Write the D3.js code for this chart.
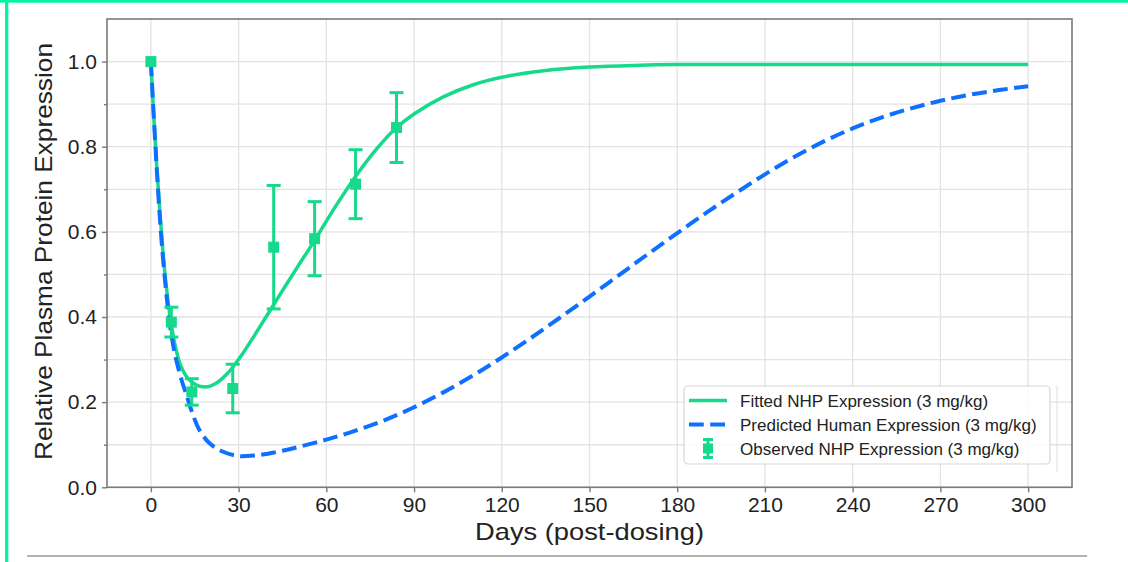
<!DOCTYPE html>
<html>
<head>
<meta charset="utf-8">
<script src="https://cdn.jsdelivr.net/npm/d3@7"></script>
<style>
  html, body { margin: 0; padding: 0; background: #fff; }
  svg { display: block; }
  text { font-family: "Liberation Sans", Arial, Helvetica, sans-serif; fill: #222; }
</style>
</head>
<body>
<div id="chart"></div>
<script>
// ---------------- Data ----------------
const obsDays   = [0, 7, 14, 28, 42, 56, 70, 84];
const obsValues = [1.0, 0.388, 0.224, 0.232, 0.564, 0.584, 0.712, 0.845];
const obsErrors = [0.0, 0.035, 0.031, 0.057, 0.145, 0.087, 0.081, 0.082];

const fitDays   = [0, 1, 2, 3, 4, 5, 6, 7, 8, 9, 10, 12, 14, 16, 18, 20, 22, 24, 26, 28, 31, 35, 40, 45, 50, 56, 63, 70, 77, 84, 90, 100, 110, 120, 135, 150, 165, 180, 210, 240, 270, 300];
const fitValues = [1.0, 0.87, 0.755, 0.655, 0.565, 0.49, 0.43, 0.382, 0.343, 0.313, 0.29, 0.262, 0.247, 0.239, 0.236, 0.237, 0.243, 0.253, 0.266, 0.282, 0.31, 0.352, 0.407, 0.462, 0.516, 0.58, 0.658, 0.73, 0.793, 0.845, 0.877, 0.917, 0.945, 0.963, 0.979, 0.987, 0.991, 0.993, 0.993, 0.993, 0.993, 0.993];

const humDays   = [0, 1, 2, 3, 4, 5, 6, 7, 8, 9, 10.5, 12.5, 14, 16.5, 20, 24.5, 30, 35, 40, 45, 50, 60, 70, 80, 90, 100, 110, 120, 130, 140, 150, 160, 170, 180, 190, 200, 210, 220, 230, 240, 250, 260, 270, 280, 290, 300];
const humValues = [1.0, 0.87, 0.75, 0.64, 0.55, 0.475, 0.41, 0.36, 0.32, 0.29, 0.252, 0.21, 0.178, 0.136, 0.104, 0.084, 0.0735, 0.0745, 0.079, 0.086, 0.094, 0.112, 0.133, 0.158, 0.188, 0.223, 0.262, 0.305, 0.351, 0.399, 0.448, 0.498, 0.548, 0.597, 0.645, 0.691, 0.735, 0.776, 0.812, 0.843, 0.869, 0.89, 0.908, 0.922, 0.933, 0.942];

const xTicks = [0, 30, 60, 90, 120, 150, 180, 210, 240, 270, 300];
const yTicks = [0.0, 0.2, 0.4, 0.6, 0.8, 1.0];
const yMinorTicks = [0.1, 0.3, 0.5, 0.7, 0.9];
const yGrid = [0.0, 0.1, 0.2, 0.3, 0.4, 0.5, 0.6, 0.7, 0.8, 0.9, 1.0];

const legendLabels = [
  "Fitted NHP Expression (3 mg/kg)",
  "Predicted Human Expression (3 mg/kg)",
  "Observed NHP Expression (3 mg/kg)"
];
const xLabel = "Days (post-dosing)";
const yLabel = "Relative Plasma Protein Expression";

// ---------------- Layout ----------------
const W = 1128, H = 562;
const GREEN = "#17d98b", BLUE = "#0f6fff", BORDER = "#00f5a6";
const pL = 107, pR = 1072, pT = 19, pB = 487.3;

const svg = d3.select("#chart").append("svg").attr("width", W).attr("height", H);

// frame decorations
svg.append("rect").attr("x", 0).attr("y", 0).attr("width", W).attr("height", 2.7).attr("fill", BORDER);
svg.append("rect").attr("x", 5).attr("y", 0).attr("width", 3.3).attr("height", H).attr("fill", BORDER);
svg.append("line").attr("x1", 27).attr("x2", 1087).attr("y1", 556).attr("y2", 556)
  .attr("stroke", "#9a9a9a").attr("stroke-width", 1.5);

const x = d3.scaleLinear().domain([-15, 315]).range([pL, pR]);
const y = d3.scaleLinear().domain([0, 1.1]).range([pB, pT]);

const plot = svg.append("g");

// grid
plot.selectAll(".gx").data(xTicks).enter().append("line")
  .attr("x1", d => x(d)).attr("x2", d => x(d)).attr("y1", pT).attr("y2", pB)
  .attr("stroke", "#e3e3e3").attr("stroke-width", 1.3);
plot.selectAll(".gy").data(yGrid).enter().append("line")
  .attr("y1", d => y(d)).attr("y2", d => y(d)).attr("x1", pL).attr("x2", pR)
  .attr("stroke", "#e3e3e3").attr("stroke-width", 1.3);

// curves
const line = d3.line().curve(d3.curveCatmullRom.alpha(0.5)).x(d => x(d[0])).y(d => y(d[1]));
plot.append("path").datum(d3.zip(fitDays, fitValues)).attr("d", line)
  .attr("fill", "none").attr("stroke", GREEN).attr("stroke-width", 3.5);
plot.append("path").datum(d3.zip(humDays, humValues)).attr("d", line)
  .attr("fill", "none").attr("stroke", BLUE).attr("stroke-width", 4)
  .attr("stroke-dasharray", "14.8,6.4");

// error bars
const obs = d3.zip(obsDays, obsValues, obsErrors);
const eb = plot.append("g");
obs.forEach(([d, v, e]) => {
  if (e > 0) {
    eb.append("line").attr("x1", x(d)).attr("x2", x(d)).attr("y1", y(v - e)).attr("y2", y(v + e))
      .attr("stroke", GREEN).attr("stroke-width", 3);
    [v - e, v + e].forEach(c => eb.append("line")
      .attr("x1", x(d) - 7).attr("x2", x(d) + 7).attr("y1", y(c)).attr("y2", y(c))
      .attr("stroke", GREEN).attr("stroke-width", 3));
  }
  eb.append("rect").attr("x", x(d) - 5.5).attr("y", y(v) - 5.5).attr("width", 11).attr("height", 11)
    .attr("fill", GREEN);
});

// spines
svg.append("rect").attr("x", pL).attr("y", pT).attr("width", pR - pL).attr("height", pB - pT)
  .attr("fill", "none").attr("stroke", "#7a7a7a").attr("stroke-width", 1.6);

// axes
const xAxis = d3.axisBottom(x).tickValues(xTicks).tickSize(5).tickPadding(5).tickFormat(d3.format("d"));
const gx = svg.append("g").attr("transform", `translate(0,${pB})`).call(xAxis);
const yAxis = d3.axisLeft(y).tickValues(yTicks).tickSize(5).tickPadding(5).tickFormat(d3.format(".1f"));
const gy = svg.append("g").attr("transform", `translate(${pL},0)`).call(yAxis);
const yMinor = d3.axisLeft(y).tickValues(yMinorTicks).tickSize(3).tickFormat("");
const gym = svg.append("g").attr("transform", `translate(${pL},0)`).call(yMinor);
[gx, gy, gym].forEach(g => {
  g.select(".domain").remove();
  g.selectAll(".tick line").attr("stroke", "#7a7a7a").attr("stroke-width", 1.4);
  g.selectAll(".tick text").attr("fill", "#222").style("font-size", "21px")
    .style("font-family", '"Liberation Sans", Arial, sans-serif');
});
gx.selectAll(".tick text").attr("dy", "0.71em");

// axis labels
svg.append("text").attr("x", (pL + pR) / 2).attr("y", 540).attr("text-anchor", "middle")
  .style("font-size", "24px").attr("textLength", 229).attr("lengthAdjust", "spacingAndGlyphs").text(xLabel);
svg.append("text").attr("transform", `translate(52,${(43 + 460) / 2}) rotate(-90)`).attr("text-anchor", "middle")
  .style("font-size", "24px").attr("textLength", 417).attr("lengthAdjust", "spacingAndGlyphs").text(yLabel);

// legend
const lg = svg.append("g");
lg.append("line").attr("x1", 1057).attr("x2", 1057).attr("y1", 385).attr("y2", 472)
  .attr("stroke", "#dddddd").attr("stroke-width", 1);
lg.append("rect").attr("x", 684).attr("y", 386).attr("width", 366).attr("height", 78)
  .attr("rx", 4).attr("fill", "rgba(255,255,255,0.85)").attr("stroke", "#d6d6d6").attr("stroke-width", 1.2);
const rowY = [400.5, 424.5, 448.5];
lg.append("line").attr("x1", 689).attr("x2", 727).attr("y1", rowY[0]).attr("y2", rowY[0])
  .attr("stroke", GREEN).attr("stroke-width", 3.5);
lg.append("line").attr("x1", 689).attr("x2", 727).attr("y1", rowY[1]).attr("y2", rowY[1])
  .attr("stroke", BLUE).attr("stroke-width", 4).attr("stroke-dasharray", "14.8,6.4");
const lx = 708;
lg.append("line").attr("x1", lx).attr("x2", lx).attr("y1", rowY[2] - 9).attr("y2", rowY[2] + 9)
  .attr("stroke", GREEN).attr("stroke-width", 3);
[-9, 9].forEach(o => lg.append("line").attr("x1", lx - 5).attr("x2", lx + 5)
  .attr("y1", rowY[2] + o).attr("y2", rowY[2] + o).attr("stroke", GREEN).attr("stroke-width", 3));
lg.append("rect").attr("x", lx - 5).attr("y", rowY[2] - 5).attr("width", 10).attr("height", 10).attr("fill", GREEN);
legendLabels.forEach((t, i) => lg.append("text").attr("x", 740).attr("y", rowY[i] + 6)
  .style("font-size", "17px").text(t));
</script>
</body>
</html>
